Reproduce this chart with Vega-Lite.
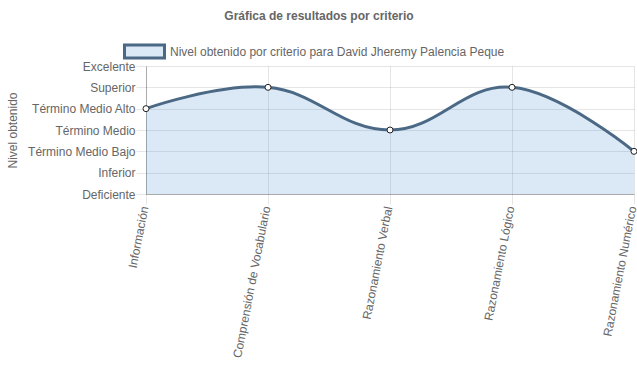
{
  "$schema": "https://vega.github.io/schema/vega-lite/v6.json",
  "autosize": {"type": "none"},
  "padding": {"left": 146, "top": 66, "right": 3, "bottom": 195},
  "width": 488,
  "height": 128,
  "background": "white",
  "config": {
    "font": "Liberation Sans",
    "view": {"stroke": null},
    "axis": {
      "labelFont": "Liberation Sans",
      "labelFontSize": 12,
      "labelColor": "#666666",
      "titleFont": "Liberation Sans",
      "titleFontSize": 12,
      "titleColor": "#666666",
      "titleFontWeight": "normal",
      "gridColor": "#000000",
      "gridOpacity": 0.1,
      "tickColor": "#000000",
      "tickOpacity": 0.1,
      "domainColor": "#000000",
      "domainOpacity": 0.25,
      "tickSize": 10
    }
  },
  "title": {
    "text": "Gráfica de resultados por criterio",
    "font": "Liberation Sans",
    "fontSize": 12,
    "fontWeight": "bold",
    "color": "#666666",
    "anchor": "middle",
    "dx": -71,
    "offset": 7
  },
  "data": {
    "values": [
      {"criterio": "Información", "nivel": 4, "serie": "Nivel obtenido por criterio para David Jheremy Palencia Peque"},
      {"criterio": "Comprensión de Vocabulario", "nivel": 5, "serie": "Nivel obtenido por criterio para David Jheremy Palencia Peque"},
      {"criterio": "Razonamiento Verbal", "nivel": 3, "serie": "Nivel obtenido por criterio para David Jheremy Palencia Peque"},
      {"criterio": "Razonamiento Lógico", "nivel": 5, "serie": "Nivel obtenido por criterio para David Jheremy Palencia Peque"},
      {"criterio": "Razonamiento Numérico", "nivel": 2, "serie": "Nivel obtenido por criterio para David Jheremy Palencia Peque"}
    ]
  },
  "encoding": {
    "x": {
      "field": "criterio",
      "type": "nominal",
      "sort": null,
      "scale": {"type": "point", "padding": 0},
      "axis": {
        "title": null,
        "labelAngle": -79,
        "labelAlign": "right",
        "labelBaseline": "middle",
        "labelPadding": 2,
        "labelOffset": -2,
        "grid": true,
        "domain": true
      }
    },
    "y": {
      "field": "nivel",
      "type": "quantitative",
      "scale": {"domain": [0, 6], "nice": false},
      "axis": {
        "title": "Nivel obtenido",
        "values": [0, 1, 2, 3, 4, 5, 6],
        "labelExpr": "['Deficiente','Inferior','Término Medio Bajo','Término Medio','Término Medio Alto','Superior','Excelente'][datum.value]",
        "labelPadding": 1,
        "titlePadding": 8,
        "grid": true
      }
    }
  },
  "layer": [
    {
      "mark": {"type": "area", "interpolate": "cardinal", "tension": -0.2},
      "encoding": {
        "fill": {
          "field": "serie",
          "type": "nominal",
          "scale": {"range": ["rgba(74,144,208,0.2)"]},
          "legend": {
            "title": null,
            "orient": "none",
            "legendX": -23,
            "legendY": -36,
            "symbolType": "M-1,-0.325H1V0.325H-1Z",
            "symbolSize": 1600,
            "symbolStrokeColor": "#4b6885",
            "symbolStrokeWidth": 3,
            "labelFont": "Liberation Sans",
            "labelFontSize": 12,
            "labelColor": "#666666",
            "labelOffset": 4,
            "labelLimit": 500
          }
        }
      }
    },
    {
      "mark": {"type": "line", "interpolate": "cardinal", "tension": -0.2, "color": "#4b6885", "strokeWidth": 3}
    },
    {
      "mark": {"type": "point", "filled": true, "fill": "white", "stroke": "#222222", "strokeWidth": 1, "size": 36, "opacity": 1}
    }
  ]
}
